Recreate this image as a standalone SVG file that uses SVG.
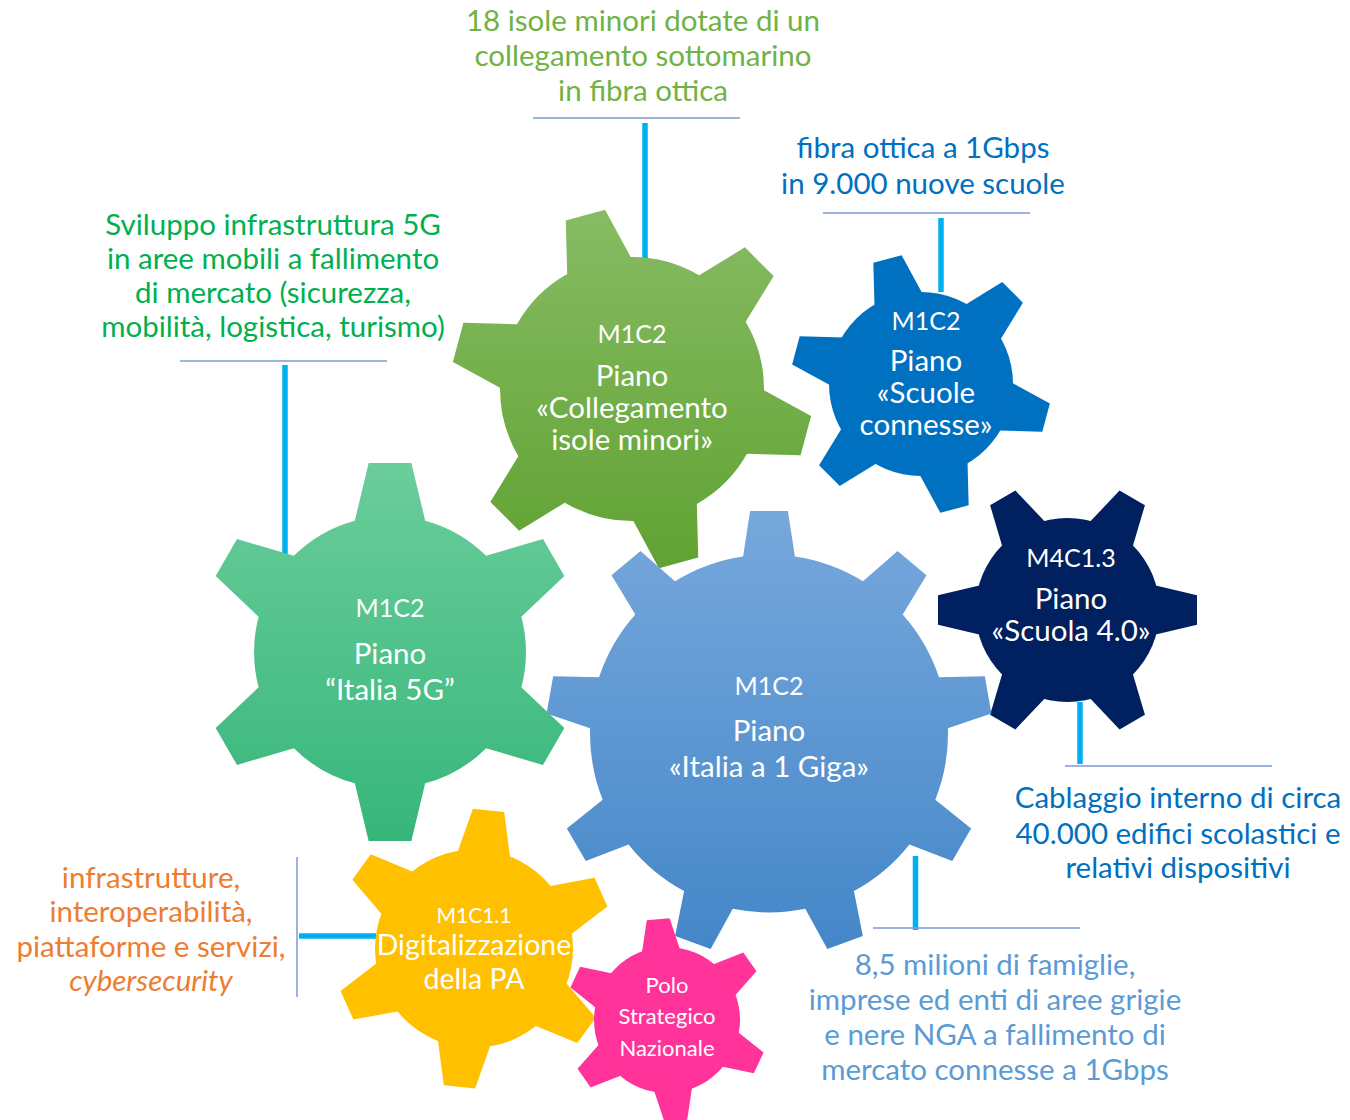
<svg xmlns="http://www.w3.org/2000/svg" xmlns:xlink="http://www.w3.org/1999/xlink" width="1350" height="1120" viewBox="0 0 1350 1120">
<style>
.t{font-family:Lato,"Open Sans","Liberation Sans",sans-serif;text-anchor:middle;font-weight:400}
.g{fill:#ffffff;font-size:29.5px}
.c{fill:#ffffff;font-size:25px}
.o{font-size:29.5px}
.thin{stroke:#7b9bd6;stroke-width:1.5;fill:none}
.thick{stroke:#00b0f0;stroke-width:5.5;fill:none}
</style>
<defs>
<polygon id="t6" points="-11.3,-100 11.3,-100 20.9,-60 -20.9,-60"/>
<polygon id="t9" points="-18.9,-222.5 18.9,-222.5 27,-170 -27,-170"/>
<linearGradient id="gr1" x1="0" y1="0" x2="0" y2="1"><stop offset="0" stop-color="#6bcd9b"/><stop offset="1" stop-color="#36b67a"/></linearGradient>
<linearGradient id="gr2" x1="0" y1="0" x2="0" y2="1"><stop offset="0" stop-color="#88bc64"/><stop offset="1" stop-color="#60a232"/></linearGradient>
<linearGradient id="gr4" x1="0" y1="0" x2="0" y2="1"><stop offset="0" stop-color="#77a8dc"/><stop offset="1" stop-color="#4386c8"/></linearGradient>
<clipPath id="c1">
<circle cx="390" cy="652" r="136"/>
<use xlink:href="#t6" transform="translate(390,652) scale(1.89) rotate(0)"/>
<use xlink:href="#t6" transform="translate(390,652) scale(1.89) rotate(60)"/>
<use xlink:href="#t6" transform="translate(390,652) scale(1.89) rotate(120)"/>
<use xlink:href="#t6" transform="translate(390,652) scale(1.89) rotate(180)"/>
<use xlink:href="#t6" transform="translate(390,652) scale(1.89) rotate(240)"/>
<use xlink:href="#t6" transform="translate(390,652) scale(1.89) rotate(300)"/>
</clipPath>
<clipPath id="c2">
<circle cx="632" cy="389" r="132"/>
<use xlink:href="#t6" transform="translate(632,389) scale(1.8) rotate(-15)"/>
<use xlink:href="#t6" transform="translate(632,389) scale(1.8) rotate(45)"/>
<use xlink:href="#t6" transform="translate(632,389) scale(1.8) rotate(105)"/>
<use xlink:href="#t6" transform="translate(632,389) scale(1.8) rotate(165)"/>
<use xlink:href="#t6" transform="translate(632,389) scale(1.8) rotate(225)"/>
<use xlink:href="#t6" transform="translate(632,389) scale(1.8) rotate(285)"/>
</clipPath>
<clipPath id="c4">
<circle cx="769" cy="733.5" r="179"/>
<use xlink:href="#t9" transform="translate(769,733.5) rotate(0)"/>
<use xlink:href="#t9" transform="translate(769,733.5) rotate(40)"/>
<use xlink:href="#t9" transform="translate(769,733.5) rotate(80)"/>
<use xlink:href="#t9" transform="translate(769,733.5) rotate(120)"/>
<use xlink:href="#t9" transform="translate(769,733.5) rotate(160)"/>
<use xlink:href="#t9" transform="translate(769,733.5) rotate(200)"/>
<use xlink:href="#t9" transform="translate(769,733.5) rotate(240)"/>
<use xlink:href="#t9" transform="translate(769,733.5) rotate(280)"/>
<use xlink:href="#t9" transform="translate(769,733.5) rotate(320)"/>
</clipPath>
</defs>
<rect width="1350" height="1120" fill="#ffffff"/>

<g id="connectors">
<line class="thin" x1="533" y1="118" x2="740" y2="118"/>
<line class="thick" x1="645" y1="123" x2="645" y2="262"/>
<line class="thin" x1="823" y1="213" x2="1030" y2="213"/>
<line class="thick" x1="941" y1="218" x2="941" y2="292"/>
<line class="thin" x1="180" y1="361" x2="387" y2="361"/>
<line class="thick" x1="285" y1="365" x2="285" y2="558"/>
<line class="thick" x1="1080" y1="702" x2="1080" y2="764"/>
<line class="thin" x1="1065" y1="766" x2="1272" y2="766"/>
<line class="thick" x1="915.5" y1="856" x2="915.5" y2="930"/>
<line class="thin" x1="873" y1="928" x2="1080" y2="928"/>
<line class="thin" x1="297" y1="857" x2="297" y2="997"/>
<line class="thick" x1="299" y1="936" x2="376" y2="936"/>
</g>

<g id="gear-collegamento">
<rect x="450" y="205" width="365" height="365" fill="url(#gr2)" clip-path="url(#c2)"/>
<text class="t c" x="632" y="343">M1C2</text>
<text class="t g" x="632" y="386">Piano</text>
<text class="t g" x="632" y="418">«Collegamento</text>
<text class="t g" x="632" y="450">isole minori»</text>
</g>

<g id="gear-scuole-connesse" fill="#0070c0">
<circle cx="921" cy="384" r="92"/>
<use xlink:href="#t6" transform="translate(921,384) scale(1.295) rotate(-15)"/>
<use xlink:href="#t6" transform="translate(921,384) scale(1.295) rotate(45)"/>
<use xlink:href="#t6" transform="translate(921,384) scale(1.295) rotate(105)"/>
<use xlink:href="#t6" transform="translate(921,384) scale(1.295) rotate(165)"/>
<use xlink:href="#t6" transform="translate(921,384) scale(1.295) rotate(225)"/>
<use xlink:href="#t6" transform="translate(921,384) scale(1.295) rotate(285)"/>
<text class="t c" x="926" y="330">M1C2</text>
<text class="t g" x="926" y="371">Piano</text>
<text class="t g" x="926" y="403">«Scuole</text>
<text class="t g" x="926" y="435">connesse»</text>
</g>

<g id="gear-scuola-4" fill="#002060">
<circle cx="1067.5" cy="610" r="92"/>
<use xlink:href="#t6" transform="translate(1067.5,610) scale(1.295) rotate(30)"/>
<use xlink:href="#t6" transform="translate(1067.5,610) scale(1.295) rotate(90)"/>
<use xlink:href="#t6" transform="translate(1067.5,610) scale(1.295) rotate(150)"/>
<use xlink:href="#t6" transform="translate(1067.5,610) scale(1.295) rotate(210)"/>
<use xlink:href="#t6" transform="translate(1067.5,610) scale(1.295) rotate(270)"/>
<use xlink:href="#t6" transform="translate(1067.5,610) scale(1.295) rotate(330)"/>
<text class="t c" x="1071" y="567">M4C1.3</text>
<text class="t g" x="1071" y="609">Piano</text>
<text class="t g" x="1071" y="641">«Scuola 4.0»</text>
</g>

<g id="gear-italia-1-giga">
<rect x="545" y="510" width="448" height="448" fill="url(#gr4)" clip-path="url(#c4)"/>
<text class="t c" x="769" y="695">M1C2</text>
<text class="t g" x="769" y="741">Piano</text>
<text class="t g" x="769" y="777">«Italia a 1 Giga»</text>
</g>

<g id="gear-italia-5g">
<rect x="200" y="462" width="380" height="380" fill="url(#gr1)" clip-path="url(#c1)"/>
<text class="t c" x="390" y="617">M1C2</text>
<text class="t g" x="390" y="664">Piano</text>
<text class="t g" x="390" y="700">“Italia 5G”</text>
</g>

<g id="gear-digitalizzazione" fill="#ffc000">
<circle cx="474" cy="948.7" r="99"/>
<use xlink:href="#t6" transform="translate(474,948.7) scale(1.39) rotate(6)"/>
<use xlink:href="#t6" transform="translate(474,948.7) scale(1.39) rotate(66)"/>
<use xlink:href="#t6" transform="translate(474,948.7) scale(1.39) rotate(126)"/>
<use xlink:href="#t6" transform="translate(474,948.7) scale(1.39) rotate(186)"/>
<use xlink:href="#t6" transform="translate(474,948.7) scale(1.39) rotate(246)"/>
<use xlink:href="#t6" transform="translate(474,948.7) scale(1.39) rotate(306)"/>
<text class="t" fill="#ffffff" font-size="21" x="474" y="923">M1C1.1</text>
<text class="t" fill="#ffffff" font-size="28.5" x="474" y="955">Digitalizzazione</text>
<text class="t" fill="#ffffff" font-size="28.5" x="474" y="989">della PA</text>
</g>

<g id="gear-polo" fill="#ff3399">
<circle cx="667" cy="1020" r="73"/>
<use xlink:href="#t6" transform="translate(667,1020) scale(1.012) rotate(-5)"/>
<use xlink:href="#t6" transform="translate(667,1020) scale(1.012) rotate(55)"/>
<use xlink:href="#t6" transform="translate(667,1020) scale(1.012) rotate(115)"/>
<use xlink:href="#t6" transform="translate(667,1020) scale(1.012) rotate(175)"/>
<use xlink:href="#t6" transform="translate(667,1020) scale(1.012) rotate(235)"/>
<use xlink:href="#t6" transform="translate(667,1020) scale(1.012) rotate(295)"/>
<text class="t" fill="#ffffff" font-size="22" x="667" y="993">Polo</text>
<text class="t" fill="#ffffff" font-size="22" x="667" y="1024">Strategico</text>
<text class="t" fill="#ffffff" font-size="22" x="667" y="1056">Nazionale</text>
</g>

<g id="label-isole" class="t o" fill="#70b244">
<text x="643" y="31">18 isole minori dotate di un</text>
<text x="643" y="66">collegamento sottomarino</text>
<text x="643" y="101">in fibra ottica</text>
</g>
<g id="label-scuole" class="t o" fill="#0070c0">
<text x="923" y="158">fibra ottica a 1Gbps</text>
<text x="923" y="194">in 9.000 nuove scuole</text>
</g>
<g id="label-5g" class="t o" fill="#00b050">
<text x="273" y="235">Sviluppo infrastruttura 5G</text>
<text x="273" y="269">in aree mobili a fallimento</text>
<text x="273" y="303">di mercato (sicurezza,</text>
<text x="273" y="337">mobilità, logistica, turismo)</text>
</g>
<g id="label-cablaggio" class="t o" fill="#0070c0">
<text x="1178" y="808">Cablaggio interno di circa</text>
<text x="1178" y="844">40.000 edifici scolastici e</text>
<text x="1178" y="878">relativi dispositivi</text>
</g>
<g id="label-famiglie" class="t o" fill="#5b9bd5">
<text x="995" y="975">8,5 milioni di famiglie,</text>
<text x="995" y="1010">imprese ed enti di aree grigie</text>
<text x="995" y="1045">e nere NGA a fallimento di</text>
<text x="995" y="1080">mercato connesse a 1Gbps</text>
</g>
<g id="label-pa" class="t o" fill="#ed7d31">
<text x="151" y="888">infrastrutture,</text>
<text x="151" y="922">interoperabilità,</text>
<text x="151" y="957">piattaforme e servizi,</text>
<text x="151" y="991" font-style="italic">cybersecurity</text>
</g>
</svg>
